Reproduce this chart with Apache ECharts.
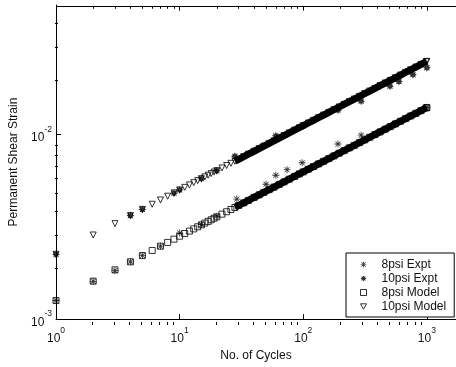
<!DOCTYPE html>
<html><head><meta charset="utf-8">
<script src="https://cdn.jsdelivr.net/npm/echarts@6/dist/echarts.min.js"></script>
<style>html,body{margin:0;padding:0;background:#fff}#c{width:456px;height:367px}</style>
</head><body><div id="c"></div>
<script>
// ---- data ----
const cyclesModel = [1,2,3,4,5,6,7,8,9,10,11,12,13,14,15,16,17,18,19,20,22,24,26,28,30,33,36,40,44,48,53,58,64,70,77,85,93,100,110,121,133,146,161,177,195,214,236,259,285,314,345,380,418,460,506,556,612,673,740,814,896,985,1000];
const model8psi = [1.260e-3,1.604e-3,1.847e-3,2.041e-3,2.206e-3,2.351e-3,2.481e-3,2.599e-3,2.707e-3,2.808e-3,2.903e-3,2.992e-3,3.076e-3,3.157e-3,3.234e-3,3.307e-3,3.377e-3,3.445e-3,3.511e-3,3.574e-3,3.694e-3,3.808e-3,3.916e-3,4.018e-3,4.116e-3,4.254e-3,4.385e-3,4.549e-3,4.702e-3,4.847e-3,5.017e-3,5.177e-3,5.357e-3,5.527e-3,5.713e-3,5.913e-3,6.101e-3,6.257e-3,6.468e-3,6.686e-3,6.910e-3,7.138e-3,7.385e-3,7.633e-3,7.894e-3,8.154e-3,8.437e-3,8.714e-3,9.009e-3,9.318e-3,9.629e-3,9.958e-3,1.0294e-2,1.0643e-2,1.1002e-2,1.1368e-2,1.1754e-2,1.2149e-2,1.2556e-2,1.2980e-2,1.3421e-2,1.3870e-2,1.3943e-2];
const model10psi = [2.240e-3,2.851e-3,3.284e-3,3.629e-3,3.921e-3,4.180e-3,4.410e-3,4.620e-3,4.813e-3,4.992e-3,5.160e-3,5.319e-3,5.469e-3,5.612e-3,5.749e-3,5.879e-3,6.004e-3,6.125e-3,6.241e-3,6.354e-3,6.568e-3,6.770e-3,6.961e-3,7.143e-3,7.317e-3,7.563e-3,7.796e-3,8.087e-3,8.359e-3,8.616e-3,8.919e-3,9.203e-3,9.524e-3,9.825e-3,1.0157e-2,1.0512e-2,1.0846e-2,1.1124e-2,1.1499e-2,1.1886e-2,1.2284e-2,1.2689e-2,1.3129e-2,1.3569e-2,1.4034e-2,1.4496e-2,1.4999e-2,1.5492e-2,1.6017e-2,1.6566e-2,1.7118e-2,1.7704e-2,1.8301e-2,1.8921e-2,1.9559e-2,2.0210e-2,2.0897e-2,2.1599e-2,2.2322e-2,2.3075e-2,2.3859e-2,2.4657e-2,2.4788e-2];
const cycles8Expt = [1,2,3,4,5,7,10,15,20,29,40,50,60,74,98,130,191,294,400,550,700,1000];
const expt8psi = [1.26e-3,1.60e-3,1.83e-3,2.04e-3,2.21e-3,2.48e-3,2.92e-3,3.25e-3,3.60e-3,4.46e-3,4.60e-3,5.36e-3,6.00e-3,6.43e-3,7.01e-3,6.90e-3,8.85e-3,9.88e-3,1.02e-2,1.14e-2,1.23e-2,1.40e-2];
const cycles10Expt = [1,4,5,9,10,15,20,28,40,60,100,191,294,400,503,594,700,771,900,1000];
const expt10psi = [2.24e-3,3.63e-3,3.92e-3,4.80e-3,5.00e-3,5.75e-3,6.35e-3,7.60e-3,8.10e-3,9.80e-3,1.11e-2,1.35e-2,1.51e-2,1.80e-2,1.82e-2,1.93e-2,2.20e-2,2.10e-2,2.39e-2,2.29e-2];
const seriesNames = ['8psi Expt','10psi Expt','8psi Model','10psi Model'];
const xMajorTicks = [1,10,100,1000];
const xExponents = ['0','1','2','3'];
const xMinorTicks = [2,3,4,5,6,7,8,9,20,30,40,50,60,70,80,90,200,300,400,500,600,700,800,900];
const yMajorTicks = [0.001,0.01];
const yExponents = ['-3','-2'];
const yMinorTicks = [0.002,0.003,0.004,0.005,0.006,0.007,0.008,0.009,0.02,0.03,0.04];
const xRange = [1, 1720];
const yRange = [0.001, 0.05];
const bandStart = 28;

// ---- symbols ----
const SYM_ASTERISK = 'path://M4.4,0L5.6,0L5.6,10L4.4,10ZM0,4.4L10,4.4L10,5.6L0,5.6ZM1,1.8L1.8,1L9,8.2L8.2,9ZM8.2,1L9,1.8L1.8,9L1,8.2Z';
const SYM_BURST = 'path://M10,5L7.77,6.15L8.54,8.54L6.15,7.77L5,10L3.85,7.77L1.46,8.54L2.23,6.15L0,5L2.23,3.85L1.46,1.46L3.85,2.23L5,0L6.15,2.23L8.54,1.46L7.77,3.85Z';
const SYM_SQUARE = 'path://M0,0L10,0L10,10L0,10Z';
const SYM_TRI = 'path://M0,0L10,0L5,9Z';

const FONT = 'Liberation Sans, Arial, Helvetica, sans-serif';
const pairs = (xs, ys) => xs.map((x, i) => [x, ys[i]]);
const band = (xs, ys) => pairs(xs, ys).filter(p => p[0] >= bandStart);

function expLabel(exps, ticks) {
  return function (v) {
    let best = 0, d = Infinity;
    ticks.forEach((t, i) => { const dd = Math.abs(Math.log10(t) - Math.log10(v)); if (dd < d) { d = dd; best = i; } });
    return '{b|10}{s|' + exps[best] + '}';
  };
}
const rich = {
  b: { fontSize: 12, fontFamily: FONT, color: '#111', lineHeight: 19, verticalAlign: 'bottom' },
  s: { fontSize: 8.5, fontFamily: FONT, color: '#111', lineHeight: 9, verticalAlign: 'top' }
};

function xAx(grid, ticks, len, labels, line) {
  return {
    gridIndex: grid,
    type: 'log', logBase: 10, min: xRange[0], max: xRange[1], position: 'bottom',
    axisLine: { show: line, onZero: false, lineStyle: { color: '#000', width: 1 } },
    axisTick: { show: true, inside: true, length: len, customValues: ticks, lineStyle: { color: '#000', width: 1 } },
    axisLabel: labels ? { show: true, customValues: xMajorTicks, margin: 7, formatter: expLabel(xExponents, xMajorTicks), rich: rich } : { show: false },
    splitLine: { show: false }, minorTick: { show: false }
  };
}
function yAx(grid, ticks, len, labels, line) {
  return {
    gridIndex: grid,
    type: 'log', logBase: 10, min: yRange[0], max: yRange[1], position: 'left',
    axisLine: { show: line, onZero: false, lineStyle: { color: '#000', width: 1 } },
    axisTick: { show: true, inside: true, length: len, customValues: ticks, lineStyle: { color: '#000', width: 1 } },
    axisLabel: labels ? { show: true, customValues: yMajorTicks, margin: 4, formatter: expLabel(yExponents, yMajorTicks), rich: rich } : { show: false },
    splitLine: { show: false }, minorTick: { show: false }
  };
}

const xAxes = [
  Object.assign(xAx(0, xMajorTicks, 5, true, true), { name: 'No. of Cycles', nameLocation: 'middle', nameGap: 30, nameTextStyle: { fontSize: 12, fontFamily: FONT, color: '#111' } }),
  xAx(1, xMinorTicks, 3, false, false)
];
const yAxes = [
  Object.assign(yAx(0, yMajorTicks, 5, true, true), { name: 'Permanent Shear Strain', nameLocation: 'middle', nameGap: 36, nameTextStyle: { fontSize: 12, fontFamily: FONT, color: '#111' } }),
  yAx(1, yMinorTicks, 3, false, false)
];
const gridBox = { left: 55, top: 5, right: 0, bottom: 42, containLabel: false };

// top edge of the box and its inward ticks, placed in data space just inside the top of the y range
const yTop = 0.0494;
const yMajorTickEnd = 0.0466;
const yMinorTickEnd = 0.0477;
const topEdge = [[{ coord: [xRange[0], yTop] }, { coord: [xRange[1], yTop] }]]
  .concat(xMajorTicks.map(v => [{ coord: [v, yTop] }, { coord: [v, yMajorTickEnd] }]))
  .concat(xMinorTicks.map(v => [{ coord: [v, yTop] }, { coord: [v, yMinorTickEnd] }]));

const chart = echarts.init(document.getElementById('c'), null, { renderer: 'canvas' });
const iconStyle = { color: 'rgba(0,0,0,0)', borderColor: '#000', borderWidth: 1 };
chart.setOption({
  animation: false,
  backgroundColor: '#fff',
  grid: [Object.assign({}, gridBox), Object.assign({}, gridBox)],
  xAxis: xAxes,
  yAxis: yAxes,
  legend: {
    data: [
      { name: seriesNames[0] },
      { name: seriesNames[1] },
      { name: seriesNames[2], itemStyle: iconStyle },
      { name: seriesNames[3], itemStyle: iconStyle }
    ],
    orient: 'vertical', left: 346, top: 253,
    padding: [5, 8, 4, 14], itemWidth: 6, itemHeight: 6, itemGap: 1,
    borderColor: '#000', borderWidth: 1, backgroundColor: '#fff', z: 10,
    textStyle: { fontSize: 12, fontFamily: FONT, color: '#111', padding: [0, 0, 0, 10], lineHeight: 13 }
  },
  series: [
    { name: 'band8', type: 'line', data: band(cyclesModel, model8psi), showSymbol: false, symbol: 'none', lineStyle: { color: '#000', width: 7 }, silent: true, z: 1 },
    { name: 'band10', type: 'line', clip: false, data: band(cyclesModel, model10psi), showSymbol: false, symbol: 'none', lineStyle: { color: '#000', width: 7 }, silent: true, z: 1,
      markLine: { silent: true, symbol: ['none', 'none'], label: { show: false }, animation: false, z: 5,
        lineStyle: { color: '#000', width: 1, type: 'solid' }, emphasis: { disabled: true }, data: topEdge } },
    { name: seriesNames[2], type: 'scatter', data: pairs(cyclesModel, model8psi), symbol: SYM_SQUARE, symbolSize: 6, itemStyle: { color: 'rgba(0,0,0,0)', borderColor: '#000', borderWidth: 1 }, z: 2 },
    { name: seriesNames[3], type: 'scatter', data: pairs(cyclesModel, model10psi), symbol: SYM_TRI, symbolSize: 6, itemStyle: { color: 'rgba(0,0,0,0)', borderColor: '#000', borderWidth: 1 }, z: 2 },
    { name: seriesNames[0], type: 'scatter', data: pairs(cycles8Expt, expt8psi), symbol: SYM_ASTERISK, symbolSize: 7, itemStyle: { color: '#000' }, z: 3 },
    { name: seriesNames[1], type: 'scatter', data: pairs(cycles10Expt, expt10psi), symbol: SYM_BURST, symbolSize: 8, itemStyle: { color: '#000' }, z: 3 }
  ]
});
</script></body></html>
